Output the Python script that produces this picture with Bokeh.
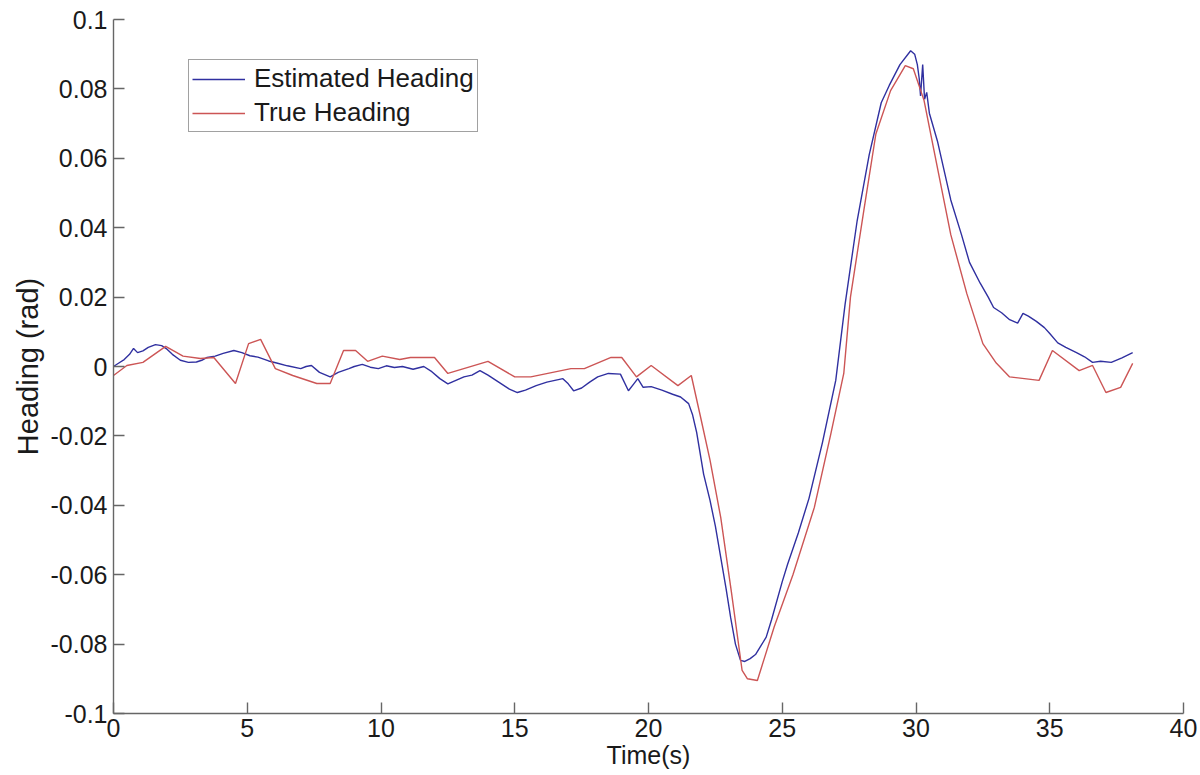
from bokeh.plotting import figure
from bokeh.models import (Range1d, FixedTicker, CustomJSTickFormatter,
                          Legend, LegendItem)
from bokeh.embed import file_html
from bokeh.resources import INLINE

# Estimated heading (rad) over time (s)
est_t = [0.0, 0.2, 0.4, 0.6, 0.75, 0.9, 1.1, 1.3, 1.57, 1.8, 2.0, 2.2, 2.5, 2.8,
         3.1, 3.3, 3.5, 3.8, 4.1, 4.5, 4.8, 5.1, 5.4, 5.8, 6.1, 6.5, 7.0, 7.2,
         7.4, 7.7, 8.1, 8.4, 8.8, 9.0, 9.3, 9.6, 9.9, 10.2, 10.5, 10.8, 11.2,
         11.6, 11.9, 12.2, 12.5, 12.8, 13.1, 13.4, 13.7, 14.0, 14.4, 14.8, 15.1,
         15.4, 15.8, 16.2, 16.5, 16.8, 17.0, 17.2, 17.5, 17.8, 18.1, 18.5, 18.95,
         19.25, 19.45, 19.6, 19.8, 20.1, 20.5, 20.9, 21.2, 21.5, 21.65, 21.8,
         22.06, 22.3, 22.5, 22.7, 22.9, 23.07, 23.25, 23.44, 23.6, 23.8, 24.0,
         24.2, 24.4, 24.6, 25.0, 25.2, 25.6, 26.0, 26.5, 27.0, 27.35, 27.8,
         28.25, 28.7, 29.0, 29.4, 29.8, 29.95, 30.05, 30.12, 30.17, 30.25,
         30.32, 30.4, 30.5, 30.8, 31.3, 31.7, 32.0, 32.4, 32.7, 32.9, 33.2,
         33.5, 33.8, 34.0, 34.2, 34.5, 34.8, 35.0, 35.3, 35.6, 36.0, 36.3,
         36.6, 36.9, 37.3, 37.7, 38.1]
est_h = [0.0, 0.001, 0.002, 0.0035, 0.0052, 0.004, 0.0045, 0.0055, 0.0063,
         0.006, 0.005, 0.0035, 0.0018, 0.0012, 0.0013, 0.0018, 0.0026, 0.003,
         0.0038, 0.0046, 0.004, 0.0031, 0.0027, 0.0016, 0.001, 0.0002, -0.0006,
         0.0, 0.0003, -0.0017, -0.003, -0.0017, -0.0006, 0.0, 0.0006, -0.0002,
         -0.0006, 0.0002, -0.0003, 0.0, -0.0008, 0.0, -0.0015, -0.0035, -0.005,
         -0.004, -0.003, -0.0025, -0.0012, -0.0025, -0.0045, -0.0065, -0.0075,
         -0.0068, -0.0055, -0.0045, -0.004, -0.0035, -0.005, -0.007, -0.0062,
         -0.0045, -0.003, -0.002, -0.0022, -0.007, -0.005, -0.0035, -0.006,
         -0.0058, -0.0068, -0.008, -0.0088, -0.0107, -0.014, -0.019, -0.031,
         -0.0386, -0.046, -0.055, -0.064, -0.0723, -0.08, -0.0847, -0.085,
         -0.0842, -0.083, -0.0805, -0.078, -0.073, -0.062, -0.057, -0.048,
         -0.038, -0.022, -0.004, 0.018, 0.042, 0.061, 0.076, 0.081, 0.087,
         0.091, 0.09, 0.087, 0.083, 0.078, 0.087, 0.077, 0.079, 0.073, 0.065,
         0.048, 0.038, 0.03, 0.024, 0.02, 0.017, 0.0155, 0.0135, 0.0125,
         0.0153, 0.0145, 0.013, 0.0112, 0.0095, 0.0068, 0.0055, 0.004, 0.0028,
         0.0012, 0.0015, 0.0012, 0.0025, 0.004]

# True heading (rad) over time (s)
true_t = [0.0, 0.5, 1.1, 1.95, 2.6, 3.25, 3.75, 4.56, 5.05, 5.5, 6.05, 6.7, 7.6,
          8.1, 8.6, 9.05, 9.5, 10.05, 10.7, 11.1, 12.0, 12.5, 14.0, 15.0, 15.6,
          17.1, 17.6, 18.6, 19.0, 19.55, 20.1, 21.1, 21.6, 21.95, 22.3, 22.7,
          23.1, 23.5, 23.7, 24.07, 24.7, 25.4, 26.2, 26.8, 27.3, 27.55, 28.05,
          28.5, 29.05, 29.6, 29.9, 30.3, 30.8, 31.3, 31.9, 32.5, 33.0, 33.5,
          34.6, 35.1, 36.1, 36.6, 37.1, 37.65, 38.1]
true_h = [-0.0026, 0.0003, 0.0012, 0.0058, 0.003, 0.0023, 0.0026, -0.0049,
          0.0066, 0.0078, -0.0006, -0.0026, -0.0049, -0.0049, 0.0046, 0.0046,
          0.0015, 0.003, 0.002, 0.0026, 0.0026, -0.002, 0.0015, -0.003, -0.003,
          -0.0006, -0.0006, 0.0026, 0.0026, -0.003, 0.0003, -0.0055, -0.0026,
          -0.0147, -0.027, -0.0435, -0.065, -0.0876, -0.09, -0.0905, -0.075,
          -0.06, -0.0406, -0.02, -0.002, 0.02, 0.045, 0.067, 0.0795, 0.0867,
          0.0858, 0.0767, 0.0573, 0.038, 0.021, 0.0066, 0.001, -0.003, -0.004,
          0.0046, -0.0012, 0.0003, -0.0075, -0.006, 0.0009]

x_ticks = [0, 5, 10, 15, 20, 25, 30, 35, 40]
y_ticks = [-0.1, -0.08, -0.06, -0.04, -0.02, 0, 0.02, 0.04, 0.06, 0.08, 0.1]

FONT = "Liberation Sans"
BLUE = "#3030a0"
RED = "#cc5555"
AXIS = "#666666"
TEXT = "#1a1a1a"

p = figure(width=1200, height=775, output_backend="svg", toolbar_location=None,
           x_range=Range1d(0, 40), y_range=Range1d(-0.1, 0.1),
           min_border_left=113, min_border_right=17,
           min_border_top=19, min_border_bottom=62)
p.background_fill_color = "white"
p.border_fill_color = "white"
p.outline_line_color = None
p.xgrid.visible = False
p.ygrid.visible = False

r_est = p.line(est_t, est_h, line_color=BLUE, line_width=1.4)
r_true = p.line(true_t, true_h, line_color=RED, line_width=1.4)

p.xaxis.ticker = FixedTicker(ticks=x_ticks)
p.yaxis.ticker = FixedTicker(ticks=y_ticks)
p.yaxis.formatter = CustomJSTickFormatter(code="""
    return tick.toFixed(2).replace(/0+$/, '').replace(/\\.$/, '');
""")

for ax in (p.xaxis[0], p.yaxis[0]):
    ax.axis_line_color = AXIS
    ax.axis_line_width = 1.4
    ax.major_tick_line_color = AXIS
    ax.major_tick_line_width = 1.4
    ax.major_tick_in = 11
    ax.major_tick_out = 0
    ax.minor_tick_line_color = None
    ax.major_label_text_font = FONT
    ax.major_label_text_font_size = "25px"
    ax.major_label_text_color = TEXT
    ax.axis_label_text_font = FONT
    ax.axis_label_text_font_style = "normal"
    ax.axis_label_text_color = TEXT

p.xaxis.axis_label = "Time(s)"
p.yaxis.axis_label = "Heading (rad)"
p.xaxis.axis_label_text_font_size = "25px"
p.yaxis.axis_label_text_font_size = "29px"
p.xaxis.major_label_standoff = 5
p.xaxis.axis_label_standoff = 1
p.yaxis.major_label_standoff = 6
p.yaxis.axis_label_standoff = 4

legend = Legend(items=[LegendItem(label="Estimated Heading", renderers=[r_est]),
                       LegendItem(label="True Heading", renderers=[r_true])],
                location=(75, 581), margin=0, padding=3, spacing=3,
                glyph_width=53, glyph_height=26, label_height=26,
                label_standoff=9,
                label_text_font=FONT, label_text_font_size="26px",
                label_text_color=TEXT,
                border_line_color="#444444", border_line_width=1.2,
                background_fill_color="white", background_fill_alpha=1.0)
p.add_layout(legend, "center")

open("out.html", "w").write(file_html(p, INLINE))
